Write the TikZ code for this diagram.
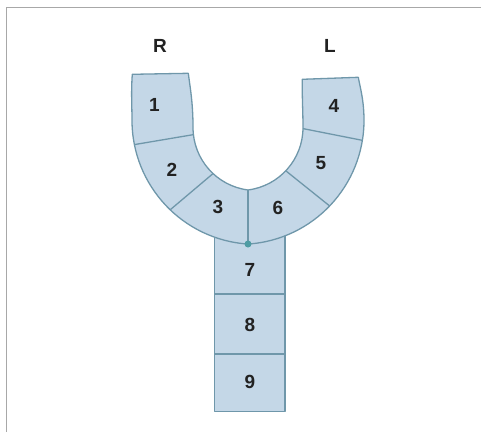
\documentclass[tikz,border=0pt]{standalone}
\usepackage{fontspec}
\setmainfont{Liberation Sans}
\usepackage{tikz}
\usepackage{xcolor}
\usetikzlibrary{calc}

\definecolor{cellfill}{HTML}{C4D7E7}
\definecolor{cellline}{HTML}{6F97AA}
\definecolor{pincolor}{HTML}{4F9CA3}
\definecolor{framecolor}{HTML}{A8A8A8}
\definecolor{labelcolor}{HTML}{222222}

\tikzset{
    cell/.style={fill=cellfill,draw=cellline,line width=1.3pt,line join=round},
    divider/.style={draw=cellline,line width=1.3pt},
    num/.style={text=labelcolor,font=\bfseries\fontsize{19}{22}\selectfont,inner sep=0pt},
}

\begin{document}
\begin{tikzpicture}[x=1pt,y=1pt]
    \useasboundingbox (0,0) rectangle (481,432);
    \draw[framecolor,line width=1.5pt] (6.5,0) |- (481,424.5);
    \coordinate (oL) at (256,311.7);
    \coordinate (oR) at (240,311.7);
    \coordinate (iL) at (256,304.5);
    \coordinate (iR) at (240,304.5);
    \coordinate (dot) at (248,188);
    \coordinate (tip) at (248,242);
    \begin{scope}
        \path[cell] (214.5,20.3) rectangle (285,205);
        \draw[divider] (214.5,138) -- (285,138);
        \draw[divider] (214.5,78) -- (285,78);
    \end{scope}
    \path[cell] (132.3,357.7) .. controls (131,340) and (132,325) .. (132,311.7)
        arc[start angle=180,end angle=266.3,radius=124]
        arc[start angle=-86.3,end angle=0,radius=124]
        .. controls (364,332) and (360,345) .. (358.3,354.7)
        -- (302.3,352.7) .. controls (302,335) and (303,320) .. (303,304.5)
        arc[start angle=0,end angle=-82.7,radius=63]
        arc[start angle=262.7,end angle=180,radius=63]
        .. controls (193,330) and (190,345) .. (188.3,358.7) -- cycle;
    \coordinate (a12) at ($(oL)+(191.3:124)$);
    \coordinate (b12) at ($(iL)+(186.5:63)$);
    \coordinate (a23) at ($(oL)+(226.2:124)$);
    \coordinate (b23) at ($(iL)+(227:63)$);
    \coordinate (a45) at ($(oR)+(-9.3:124)$);
    \coordinate (b45) at ($(iR)+(-1:63)$);
    \coordinate (a56) at ($(oR)+(-43.7:124)$);
    \coordinate (b56) at ($(iR)+(-43.4:63)$);
    \draw[divider] (a12) -- (b12);
    \draw[divider] (a23) -- (b23);
    \draw[divider] (a45) -- (b45);
    \draw[divider] (a56) -- (b56);
    \draw[divider] (tip) -- (dot);
    \fill[pincolor] (dot) circle (3.5);
    \foreach \n/\x/\y in {1/154.5/327,2/172/262,3/218/225,4/334/326,5/321/268.5,
                          6/278/224.5,7/250/162,8/250/107,9/250/50}{
        \node[num] (c\n) at (\x,\y) {\n};
    }
    \node[num] (right) at (160,386) {R};
    \node[num] (left) at (330,386) {L};
\end{tikzpicture}
\end{document}
